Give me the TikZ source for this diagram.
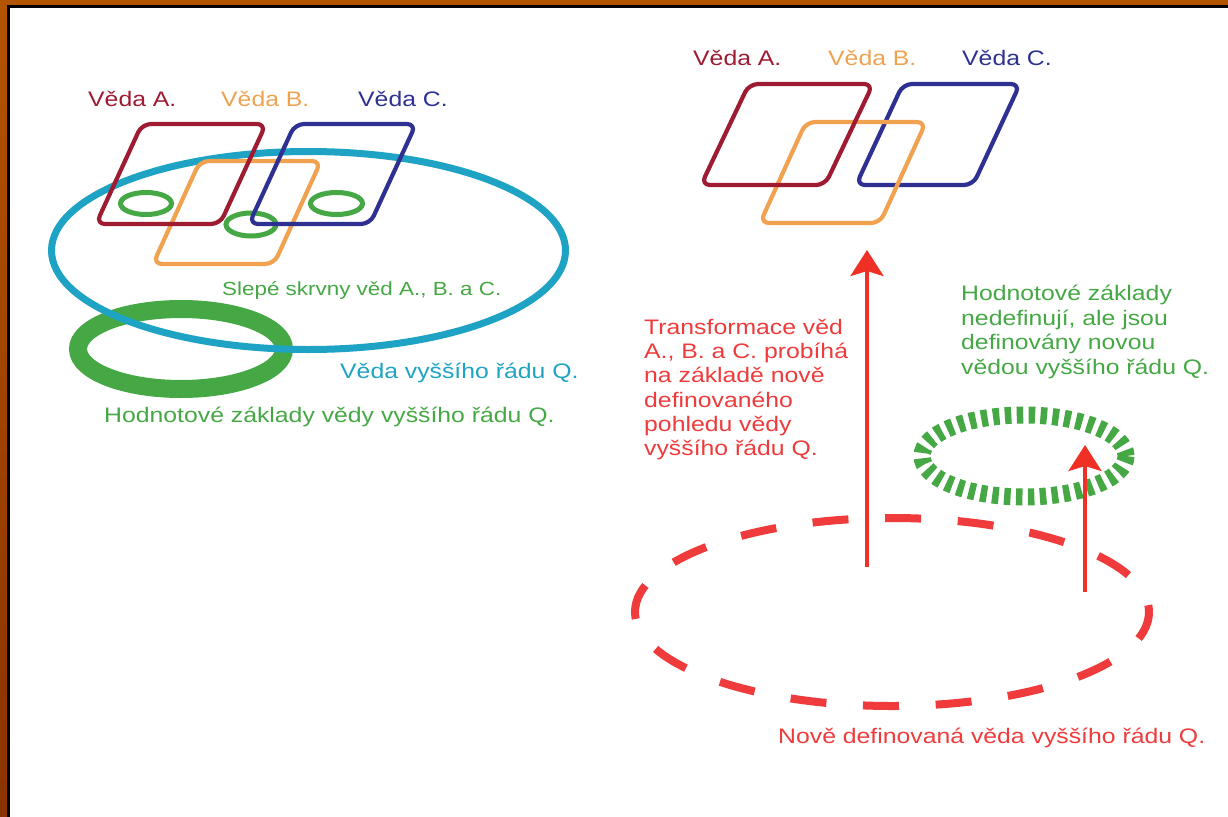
\documentclass[tikz,border=0pt]{standalone}
\usepackage{fontspec}
\setmainfont{Liberation Sans}[FakeStretch=1.18]
\usetikzlibrary{arrows.meta}
\definecolor{frameA}{HTML}{B35400}
\definecolor{frameB}{HTML}{8A3200}
\definecolor{cA}{HTML}{9E1B32}
\definecolor{cB}{HTML}{F0A250}
\definecolor{cC}{HTML}{2E3192}
\definecolor{cyanQ}{HTML}{1FA3C4}
\definecolor{greenQ}{HTML}{45A845}
\definecolor{redQ}{HTML}{EF3B3B}
\definecolor{redArrow}{HTML}{EE3124}
\begin{document}
\begin{tikzpicture}[x=1pt,y=-1pt,
  lbl/.style={anchor=base west, inner sep=0pt, font=\fontsize{21}{24.4}\selectfont},
  para/.style={line width=4.2pt, rounded corners=9pt, line join=round},
  spot/.style={draw=greenQ, line width=5pt},
  arr/.style={draw=redArrow, line width=3.8pt, -{Stealth[length=26pt,width=33pt,inset=5pt]}}]
\useasboundingbox (0,0) rectangle (1228,816);
% frame
\shade[top color=frameA, bottom color=frameB] (0,0) rectangle (1240,830);
\fill[black] (7,5.5) rectangle (1240,830);
\fill[white] (9.5,8) rectangle (1240,830);

% ---------------- left group ----------------
\draw[greenQ, line width=18pt] (181,349) ellipse (103 and 40);
\draw[cyanQ, line width=7pt] (308.5,250.5) ellipse (257 and 99);
\draw[para, cB] (260.5,161) -- (321,161) -- (274,264) -- (153,264) -- (200,161) -- cycle;
\draw[spot] (146,203.5) ellipse (25.5 and 11);
\draw[spot] (251,224.5) ellipse (25 and 11.5);
\draw[spot] (336.5,203.5) ellipse (26 and 11);
\draw[para, cA] (204,124) -- (266,124) -- (220,224) -- (96,224) -- (142,124) -- cycle;
\draw[para, cC] (355.5,124) -- (416,124) -- (370,224) -- (249,224) -- (295,124) -- cycle;

\node[lbl, text=cA] (lA) at (88,106) {Věda A.};
\node[lbl, text=cB] (lB) at (221,106) {Věda B.};
\node[lbl, text=cC] (lC) at (358,106) {Věda C.};
\node[lbl, text=greenQ, font=\fontsize{19}{22}\selectfont] (blind) at (222,295) {Slepé skrvny věd A., B. a C.};
\node[lbl, text=cyanQ] (vq) at (340,378.5) {Věda vyššího řádu Q.};
\node[lbl, text=greenQ] (hz) at (104,422) {Hodnotové základy vědy vyššího řádu Q.};

% ---------------- right group ----------------
\draw[para, cC] (961.5,84) -- (1020,84) -- (973,185) -- (856,185) -- (903,84) -- cycle;
\draw[para, cB] (866,122) -- (926,122) -- (880,223) -- (760,223) -- (806,122) -- cycle;
\draw[para, cA] (811,84) -- (873,84) -- (825,185) -- (701,185) -- (749,84) -- cycle;

\node[lbl, text=cA] (rA) at (693,65.5) {Věda A.};
\node[lbl, text=cB] (rB) at (828,65.5) {Věda B.};
\node[lbl, text=cC] (rC) at (962,65.5) {Věda C.};

\draw[redQ, line width=8pt, dash pattern=on 36pt off 36.7pt, dash phase=7pt] (892,612) ellipse (257 and 94);
\draw[greenQ, line width=17pt, dash pattern=on 6.5pt off 5.4pt] (1024,456) ellipse (102 and 41);

\coordinate (a1s) at (867,567);
\coordinate (a1e) at (867,250);
\coordinate (a2s) at (1085,592);
\coordinate (a2e) at (1085,445);
\draw[arr] (a1s) -- (a1e);
\draw[arr] (a2s) -- (a2e);

% multi-line nodes: base anchor sits on the last line
\node[lbl, text=redQ, align=left, font=\fontsize{21}{24.2}\selectfont] (tr) at (644,455.5)
  {Transformace věd\\A., B. a C. probíhá\\na základě nově\\definovaného\\pohledu vědy\\vyššího řádu Q.};
\node[lbl, text=greenQ, align=left, font=\fontsize{21}{24.6}\selectfont] (hn) at (961,374.3)
  {Hodnotové základy\\nedefinují, ale jsou\\definovány novou\\vědou vyššího řádu Q.};
\node[lbl, text=redQ] (nd) at (778,743) {Nově definovaná věda vyššího řádu Q.};
\end{tikzpicture}
\end{document}
